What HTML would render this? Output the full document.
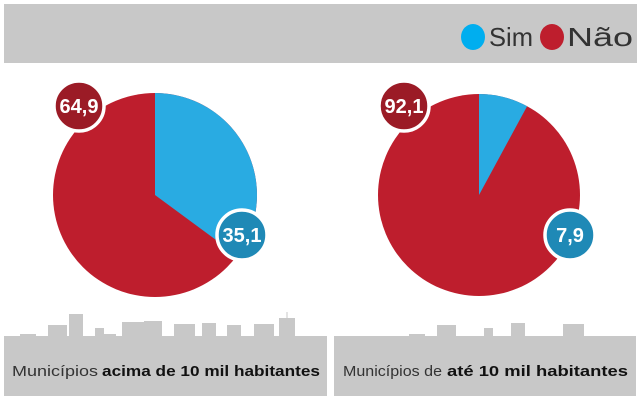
<!DOCTYPE html>
<html><head><meta charset="utf-8"><style>
html,body{margin:0;padding:0;background:#fff;}
svg{display:block;}
text{font-family:"Liberation Sans",sans-serif;}
</style></head><body>
<svg width="640" height="400" viewBox="0 0 640 400" xmlns="http://www.w3.org/2000/svg">
<rect x="0" y="0" width="640" height="400" fill="#fff"/>
<!-- header -->
<rect x="4" y="4" width="633" height="59" fill="#c8c8c8"/>
<ellipse cx="473" cy="37" rx="12" ry="13" fill="#00aeef"/>
<text x="489" y="46" font-size="26" fill="#333" textLength="44" lengthAdjust="spacingAndGlyphs">Sim</text>
<ellipse cx="552" cy="37" rx="12" ry="13" fill="#be1e2d"/>
<text x="567" y="46" font-size="26" fill="#333" textLength="66" lengthAdjust="spacingAndGlyphs">Não</text>

<!-- left pie -->
<circle cx="155" cy="195" r="102" fill="#be1e2d"/>
<path d="M155,195 L155,93 A102,102 0 0,1 237.1,255.5 Z" fill="#29abe2"/>
<!-- right pie -->
<circle cx="479" cy="195" r="101" fill="#be1e2d"/>
<path d="M479,195 L479,94 A101,101 0 0,1 527.1,106.2 Z" fill="#29abe2"/>

<!-- labels -->
<circle cx="79" cy="106" r="25" fill="#9b1b26" stroke="#fff" stroke-width="3.5"/>
<text x="79" y="113" font-size="20" font-weight="bold" fill="#fff" text-anchor="middle">64,9</text>
<circle cx="242" cy="235" r="25" fill="#1f89b6" stroke="#fff" stroke-width="3.5"/>
<text x="242" y="242" font-size="20" font-weight="bold" fill="#fff" text-anchor="middle">35,1</text>
<circle cx="404" cy="106" r="25" fill="#9b1b26" stroke="#fff" stroke-width="3.5"/>
<text x="404" y="113" font-size="20" font-weight="bold" fill="#fff" text-anchor="middle">92,1</text>
<circle cx="570" cy="235" r="25" fill="#1f89b6" stroke="#fff" stroke-width="3.5"/>
<text x="570" y="242" font-size="20" font-weight="bold" fill="#fff" text-anchor="middle">7,9</text>

<!-- skyline left -->
<g fill="#c8c8c8">
<rect x="20" y="334" width="16" height="3"/>
<rect x="48" y="325" width="19" height="12"/>
<rect x="69" y="314" width="14" height="23"/>
<rect x="95" y="328" width="9" height="9"/>
<rect x="104" y="334" width="12" height="3"/>
<rect x="122" y="322" width="22" height="15"/>
<rect x="144" y="321" width="18" height="16"/>
<rect x="174" y="324" width="21" height="13"/>
<rect x="202" y="323" width="14" height="14"/>
<rect x="227" y="325" width="14" height="12"/>
<rect x="254" y="324" width="20" height="13"/>
<rect x="279" y="318" width="16" height="19"/>
<rect x="286.5" y="312" width="1" height="7"/>
<rect x="4" y="336" width="323" height="60"/>
<!-- skyline right -->
<rect x="409" y="334" width="16" height="3"/>
<rect x="437" y="325" width="19" height="12"/>
<rect x="484" y="328" width="9" height="9"/>
<rect x="511" y="323" width="14" height="14"/>
<rect x="563" y="324" width="21" height="13"/>
<rect x="334" y="336" width="302" height="60"/>
</g>

<!-- bottom labels -->
<text x="12" y="376" font-size="15" fill="#333" textLength="86" lengthAdjust="spacingAndGlyphs">Municípios</text>
<text x="102" y="376" font-size="15" font-weight="bold" fill="#111" textLength="218" lengthAdjust="spacingAndGlyphs">acima de 10 mil habitantes</text>
<text x="343" y="376" font-size="15" fill="#333" textLength="99" lengthAdjust="spacingAndGlyphs">Municípios de</text>
<text x="447" y="376" font-size="15" font-weight="bold" fill="#111" textLength="181" lengthAdjust="spacingAndGlyphs">até 10 mil habitantes</text>
</svg>
</body></html>
